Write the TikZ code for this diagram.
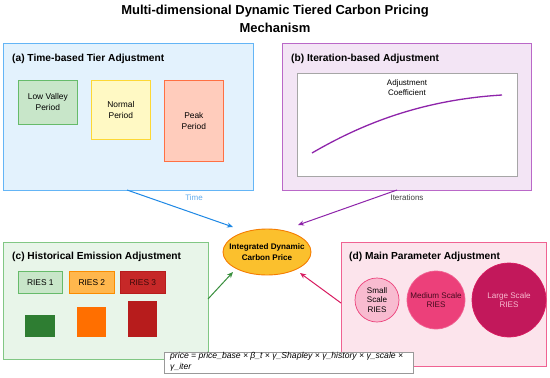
\documentclass[tikz,border=0pt]{standalone}
\usepackage{fontspec}
\setmainfont{Liberation Sans}
\usetikzlibrary{arrows.meta,shapes.geometric}
\definecolor{aFill}{HTML}{E3F2FD}\definecolor{aDraw}{HTML}{64B5F6}
\definecolor{bFill}{HTML}{F3E5F5}\definecolor{bDraw}{HTML}{BA68C8}
\definecolor{cFill}{HTML}{E8F5E9}\definecolor{cDraw}{HTML}{81C784}
\definecolor{dFill}{HTML}{FCE4EC}\definecolor{dDraw}{HTML}{F06292}
\definecolor{timeC}{HTML}{1E88E5}\definecolor{iterC}{HTML}{8E24AA}
\definecolor{histC}{HTML}{388E3C}\definecolor{mainC}{HTML}{D81B60}
\tikzset{
  panel/.style={draw=#1, line width=0.8pt, anchor=north west, inner sep=0pt},
  ptitle/.style={anchor=west, font=\bfseries\fontsize{10.2}{12}\selectfont, inner sep=0pt},
  tbox/.style={anchor=north west, line width=0.7pt, inner sep=0pt, align=center, font=\fontsize{8.4}{11}\selectfont},
  conn/.style={line width=1pt, -{Stealth[length=6pt,width=5pt]}},
  lbl/.style={font=\fontsize{8}{9.7}\selectfont, inner sep=0pt},
  circ/.style={circle, line width=0.7pt, inner sep=0pt, align=center, font=\fontsize{8.1}{9.7}\selectfont},
}
\begin{document}
\begin{tikzpicture}[x=1pt,y=-1pt]
\useasboundingbox[fill=white] (0,0) rectangle (550,378);
% title
\node[font=\bfseries\fontsize{13}{18}\selectfont, align=center] (title) at (275,19) {Multi-dimensional Dynamic Tiered Carbon Pricing\\Mechanism};
% panel a
\node[panel=aDraw, fill=aFill, minimum width=250pt, minimum height=147pt] (pa) at (3,43) {};
\node[ptitle] (ta) at (12,59) {(a) Time-based Tier Adjustment};
\node[tbox, draw={rgb,255:red,102;green,187;blue,106}, fill={rgb,255:red,200;green,230;blue,201}, minimum width=59pt, minimum height=44pt] (low) at (18,80) {Low Valley\\Period};
\node[tbox, draw={rgb,255:red,253;green,216;blue,53}, fill={rgb,255:red,255;green,249;blue,196}, minimum width=59pt, minimum height=59pt] (normal) at (91,80) {Normal\\Period};
\node[tbox, draw={rgb,255:red,255;green,112;blue,67}, fill={rgb,255:red,255;green,204;blue,188}, minimum width=59pt, minimum height=81pt] (peak) at (164,80) {Peak\\Period};
% panel b
\node[panel=bDraw, fill=bFill, minimum width=249pt, minimum height=147pt] (pb) at (282,43) {};
\node[ptitle] (tb) at (291,59) {(b) Iteration-based Adjustment};
\node[anchor=north west, draw=gray!70, line width=0.7pt, fill=white, minimum width=220pt, minimum height=103pt, inner sep=0pt] (chart) at (297,73) {};
\node[lbl, align=center] (coef) at (407,87.5) {Adjustment\\Coefficient};
\draw[iterC, line width=1.3pt] (312,153) .. controls (360,125) and (420,100) .. (502,95);
% center ellipse
\node[ellipse, draw={rgb,255:red,245;green,124;blue,0}, fill={rgb,255:red,251;green,192;blue,45}, line width=0.9pt, minimum width=88pt, minimum height=46pt, inner xsep=-10pt, inner ysep=0pt, align=center, font=\bfseries\fontsize{8.1}{10.5}\selectfont] (center) at (267,252) {Integrated Dynamic\\Carbon Price};
% panel c
\node[panel=cDraw, fill=cFill, minimum width=205pt, minimum height=117pt] (pc) at (3,242) {};
\node[ptitle] (tc) at (12,257) {(c) Historical Emission Adjustment};
\node[tbox, draw={rgb,255:red,102;green,187;blue,106}, fill={rgb,255:red,200;green,230;blue,201}, minimum width=44pt, minimum height=22pt] (r1) at (18,271) {RIES 1};
\node[tbox, draw={rgb,255:red,251;green,140;blue,0}, fill={rgb,255:red,255;green,183;blue,77}, minimum width=45pt, minimum height=22pt] (r2) at (69,271) {RIES 2};
\node[tbox, draw={rgb,255:red,183;green,28;blue,28}, fill={rgb,255:red,198;green,40;blue,40}, text={rgb,255:red,60;green,10;blue,10}, minimum width=45pt, minimum height=22pt] (r3) at (120,271) {RIES 3};
\node[anchor=north west, fill={rgb,255:red,46;green,125;blue,50}, minimum width=30pt, minimum height=22pt, inner sep=0pt] (s1) at (25,315) {};
\node[anchor=north west, fill={rgb,255:red,255;green,111;blue,0}, minimum width=29pt, minimum height=30pt, inner sep=0pt] (s2) at (77,307) {};
\node[anchor=north west, fill={rgb,255:red,183;green,28;blue,28}, minimum width=29pt, minimum height=36pt, inner sep=0pt] (s3) at (128,301) {};
% panel d
\node[panel=dDraw, fill=dFill, minimum width=205pt, minimum height=124pt] (pd) at (341,242) {};
\node[ptitle] (td) at (349,257) {(d) Main Parameter Adjustment};
\node[circ, draw={rgb,255:red,236;green,64;blue,122}, fill={rgb,255:red,248;green,187;blue,208}, minimum size=44pt] (small) at (377,300) {Small\\Scale\\RIES};
\node[circ, draw={rgb,255:red,240;green,98;blue,146}, fill={rgb,255:red,236;green,64;blue,122}, text={rgb,255:red,70;green,10;blue,30}, minimum size=58pt, inner sep=-8pt] (medium) at (436,300) {Medium Scale\\RIES};
\node[circ, draw={rgb,255:red,216;green,27;blue,96}, fill={rgb,255:red,194;green,24;blue,91}, text={rgb,255:red,248;green,187;blue,208}, minimum size=74pt] (large) at (509,300) {Large Scale\\RIES};
% connectors
\coordinate (aout) at (127,190);
\coordinate (bout) at (397,190);
\coordinate (cout) at (208,299);
\coordinate (dout) at (341,303);
\draw[conn, timeC] (aout) -- (233,227) coordinate (ain);
\draw[conn, iterC] (bout) -- (298,225) coordinate (bin);
\draw[conn, histC] (cout) -- (233,272) coordinate (cin);
\draw[conn, mainC] (dout) -- (300,273) coordinate (din);
\node[lbl, text=timeC!70] (ltime) at (194,197.5) {Time};
\node[lbl, text=black!75] (liter) at (407,198) {Iterations};
% formula
\node[anchor=north west, draw=gray!80, line width=0.7pt, fill=white, minimum width=249pt, minimum height=21pt, inner sep=0pt] (fbox) at (164,352) {};
\node[anchor=north west, align=left, inner sep=0pt, font=\itshape\fontsize{8.6}{11}\selectfont] (formula) at (170,352.5) {price = price\_base × β\_t × γ\_Shapley × γ\_history × γ\_scale ×\\γ\_iter};
\end{tikzpicture}
\end{document}
